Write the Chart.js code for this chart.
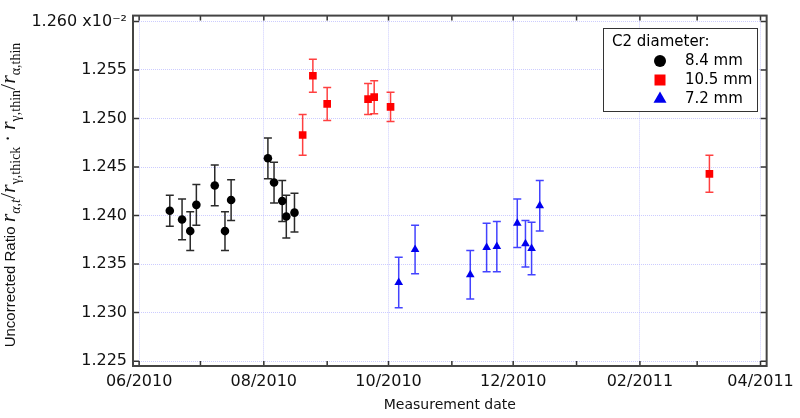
<!DOCTYPE html>
<html>
<head>
<meta charset="utf-8">
<script src="https://cdn.jsdelivr.net/npm/chart.js@4.4.0/dist/chart.umd.min.js"></script>
<style>
  body { margin: 0; background: #fff; }
  canvas { display: block; }
</style>
</head>
<body>
<canvas id="chart" width="800" height="418"></canvas>
<script>
// day numbers counted from 2010-06-01
const START = Date.UTC(2010, 5, 1);
function dayOf(s) {
  const [y, m, d] = s.split('-').map(Number);
  return (Date.UTC(y, m - 1, d) - START) / 86400000;
}

// C2 diameter 8.4 mm
const dates84 = ['2010-06-16', '2010-06-22', '2010-06-26', '2010-06-29', '2010-07-08', '2010-07-13',
                 '2010-07-16', '2010-08-03', '2010-08-06', '2010-08-10', '2010-08-12', '2010-08-16'];
const ratio84 = [1.2405, 1.2396, 1.2384, 1.2411, 1.2431, 1.2384, 1.2416, 1.2459, 1.2434, 1.2415, 1.2399, 1.2403];
const err84   = [0.0016, 0.0021, 0.0020, 0.0021, 0.0021, 0.0020, 0.0021, 0.0021, 0.0021, 0.0021, 0.0022, 0.0020];

// C2 diameter 10.5 mm
const dates105 = ['2010-08-20', '2010-08-25', '2010-09-01', '2010-09-21', '2010-09-24', '2010-10-02', '2011-03-07'];
const ratio105 = [1.2483, 1.2544, 1.2515, 1.2520, 1.2522, 1.2512, 1.2443];
const err105   = [0.0021, 0.0017, 0.0017, 0.0016, 0.0017, 0.0015, 0.0019];

// C2 diameter 7.2 mm
const dates72 = ['2010-10-06', '2010-10-14', '2010-11-10', '2010-11-18', '2010-11-23', '2010-12-03',
                 '2010-12-07', '2010-12-10', '2010-12-14'];
const ratio72 = [1.2331, 1.2365, 1.2339, 1.2367, 1.2368, 1.2392, 1.2371, 1.2366, 1.2410];
const err72   = [0.0026, 0.0025, 0.0025, 0.0025, 0.0026, 0.0025, 0.0024, 0.0027, 0.0026];

const yTicks = [1.225, 1.230, 1.235, 1.240, 1.245, 1.250, 1.255, 1.260];
const yTickLabels = ['1.225', '1.230', '1.235', '1.240', '1.245', '1.250', '1.255', '1.260 x10\u207B\u00B2'];
const xTickDates = ['2010-06-01', '2010-07-01', '2010-08-01', '2010-09-01', '2010-10-01', '2010-11-01',
                    '2010-12-01', '2011-01-01', '2011-02-01', '2011-03-01', '2011-04-01'];
const xTickLabels = ['06/2010', '', '08/2010', '', '10/2010', '', '12/2010', '', '02/2011', '', '04/2011'];

const legendTitle = 'C2 diameter:';
const seriesNames = ['8.4 mm', '10.5 mm', '7.2 mm'];

function points(dates, vals) {
  return dates.map((d, i) => ({ x: dayOf(d), y: vals[i] }));
}

const gridColor = 'rgba(170,170,255,0.6)';

const errorBars = {
  id: 'errorBars',
  beforeDatasetsDraw(chart) {
    const { ctx, scales: { x, y } } = chart;
    chart.data.datasets.forEach(ds => {
      ctx.save();
      ctx.strokeStyle = ds.errColor;
      ctx.lineWidth = 1.5;
      ds.data.forEach((p, j) => {
        const px = x.getPixelForValue(p.x);
        const top = y.getPixelForValue(p.y + ds.errors[j]);
        const bot = y.getPixelForValue(p.y - ds.errors[j]);
        ctx.beginPath();
        ctx.moveTo(px, top); ctx.lineTo(px, bot);
        ctx.moveTo(px - 4, top); ctx.lineTo(px + 4, top);
        ctx.moveTo(px - 4, bot); ctx.lineTo(px + 4, bot);
        ctx.stroke();
      });
      ctx.restore();
    });
  }
};

function marker(ctx, style, cx, cy, r, color) {
  ctx.fillStyle = color;
  ctx.beginPath();
  if (style === 'circle') {
    ctx.arc(cx, cy, r, 0, Math.PI * 2);
  } else if (style === 'rect') {
    ctx.rect(cx - r, cy - r, 2 * r, 2 * r);
  } else {
    const h = r * Math.sqrt(3);
    ctx.moveTo(cx, cy - h * 2 / 3);
    ctx.lineTo(cx + r, cy + h / 3);
    ctx.lineTo(cx - r, cy + h / 3);
    ctx.closePath();
  }
  ctx.fill();
}

const frameAndLabels = {
  id: 'frameAndLabels',
  afterDraw(chart) {
    const { ctx, chartArea: a, scales: { x, y } } = chart;
    ctx.save();
    // inward ticks
    ctx.strokeStyle = '#333';
    ctx.lineWidth = 1.5;
    ctx.beginPath();
    yTicks.forEach(v => {
      const py = y.getPixelForValue(v);
      ctx.moveTo(a.left, py); ctx.lineTo(a.left + 6, py);
      ctx.moveTo(a.right, py); ctx.lineTo(a.right - 6, py);
    });
    xTickDates.forEach(d => {
      const px = x.getPixelForValue(dayOf(d));
      ctx.moveTo(px, a.bottom); ctx.lineTo(px, a.bottom - 5);
      ctx.moveTo(px, a.top); ctx.lineTo(px, a.top + 5);
    });
    ctx.stroke();
    // frame
    ctx.strokeStyle = '#444';
    ctx.lineWidth = 2;
    ctx.strokeRect(a.left, a.top, a.right - a.left, a.bottom - a.top);

    // legend box
    ctx.fillStyle = '#fff';
    ctx.fillRect(603, 28, 154, 83);
    ctx.strokeStyle = '#333';
    ctx.lineWidth = 1;
    ctx.strokeRect(603.5, 28.5, 154, 83);
    ctx.fillStyle = '#000';
    ctx.font = '15px "DejaVu Sans"';
    ctx.textBaseline = 'middle';
    ctx.textAlign = 'left';
    ctx.fillText(legendTitle, 612, 42);
    const sizes = [6, 5.5, 6.5];
    chart.data.datasets.forEach((ds, i) => {
      const cy = 61 + i * 19;
      marker(ctx, ds.pointStyle, 660, cy, sizes[i], ds.backgroundColor);
      ctx.fillStyle = '#000';
      ctx.fillText(seriesNames[i], 685, cy);
    });

    // y axis title with subscripts
    const serif = '"Liberation Serif"';
    const parts = [
      { t: 'Uncorrected Ratio ', f: '15px "Liberation Sans"', dy: 0 },
      { t: 'r', f: 'italic 22px ' + serif, dy: 0 },
      { t: '\u03B1,t', f: 'italic 14px ' + serif, dy: 5 },
      { t: '/', f: '22px ' + serif, dy: 0 },
      { t: 'r', f: 'italic 22px ' + serif, dy: 0 },
      { t: '\u03B3,thick', f: '14px ' + serif, dy: 5 },
      { t: ' \u00B7 ', f: '20px ' + serif, dy: 0 },
      { t: 'r', f: 'italic 22px ' + serif, dy: 0 },
      { t: '\u03B3,thin', f: '14px ' + serif, dy: 5 },
      { t: '/', f: '22px ' + serif, dy: 0 },
      { t: 'r', f: 'italic 22px ' + serif, dy: 0 },
      { t: '\u03B1,thin', f: '14px ' + serif, dy: 5 }
    ];
    let total = 0;
    parts.forEach(p => { ctx.font = p.f; p.w = ctx.measureText(p.t).width; total += p.w; });
    ctx.translate(15, 195);
    ctx.rotate(-Math.PI / 2);
    ctx.textBaseline = 'alphabetic';
    ctx.fillStyle = '#111';
    let cx = -total / 2;
    parts.forEach(p => {
      ctx.font = p.f;
      ctx.fillText(p.t, cx, p.dy);
      cx += p.w;
    });
    ctx.restore();
  }
};

new Chart(document.getElementById('chart'), {
  type: 'scatter',
  data: {
    datasets: [
      {
        label: seriesNames[0],
        data: points(dates84, ratio84),
        errors: err84,
        errColor: '#2a2a2a',
        pointStyle: 'circle',
        pointRadius: 4.3,
        backgroundColor: '#000',
        borderWidth: 0
      },
      {
        label: seriesNames[1],
        data: points(dates105, ratio105),
        errors: err105,
        errColor: 'rgba(255,0,0,0.75)',
        pointStyle: 'rect',
        pointRadius: 5.4,
        backgroundColor: '#ff0000',
        borderWidth: 0
      },
      {
        label: seriesNames[2],
        data: points(dates72, ratio72),
        errors: err72,
        errColor: 'rgba(20,20,255,0.8)',
        pointStyle: 'triangle',
        pointRadius: 5,
        backgroundColor: '#0000ee',
        borderWidth: 0
      }
    ]
  },
  options: {
    responsive: false,
    animation: false,
    layout: { padding: { top: 5, right: 26, left: 0, bottom: 0 } },
    plugins: { legend: { display: false }, tooltip: { enabled: false } },
    scales: {
      x: {
        type: 'linear',
        min: dayOf('2010-05-29'),
        max: dayOf('2011-04-04'),
        afterBuildTicks: s => { s.ticks = xTickDates.map(d => ({ value: dayOf(d) })); },
        afterFit: s => { s.height = 52; },
        ticks: {
          autoSkip: false,
          maxRotation: 0,
          padding: 6,
          color: '#111',
          font: { family: 'DejaVu Sans', size: 16 },
          callback: (v, i) => xTickLabels[i]
        },
        grid: {
          drawTicks: false,
          color: c => (xTickLabels[c.index] ? gridColor : 'rgba(0,0,0,0)'),
          lineWidth: 1
        },
        border: { display: false, dash: [1, 1] },
        title: {
          display: true,
          text: 'Measurement date',
          color: '#111',
          font: { family: 'DejaVu Sans', size: 14 },
          padding: { top: 0, bottom: 4 }
        }
      },
      y: {
        min: 1.2245,
        max: 1.2606,
        afterBuildTicks: s => { s.ticks = yTicks.map(v => ({ value: v })); },
        afterFit: s => { s.width = 133; },
        ticks: {
          padding: 6,
          color: '#111',
          font: { family: 'DejaVu Sans', size: 16 },
          callback: (v, i) => yTickLabels[i]
        },
        grid: { drawTicks: false, color: gridColor, lineWidth: 1 },
        border: { display: false, dash: [1, 1] }
      }
    }
  },
  plugins: [errorBars, frameAndLabels]
});
</script>
</body>
</html>
